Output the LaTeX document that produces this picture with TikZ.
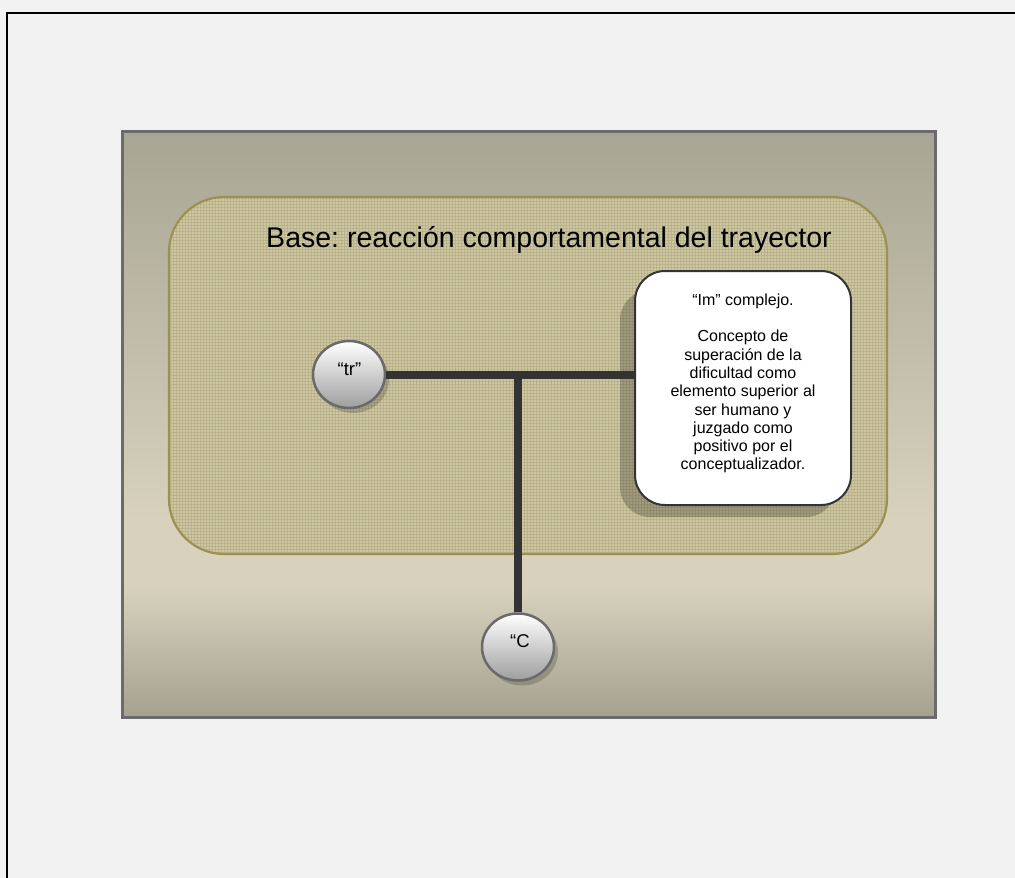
\documentclass[tikz,border=0pt]{standalone}
\usepackage{fontspec}
\setmainfont{Liberation Sans}
\frenchspacing
\usetikzlibrary{calc,shapes.geometric}

\definecolor{bgpage}{HTML}{F2F2F2}
\definecolor{ptop}{RGB}{167,165,147}
\definecolor{pmid}{RGB}{215,209,189}
\definecolor{pbot}{RGB}{165,161,143}
\definecolor{panelrule}{HTML}{6B6B6B}
\definecolor{basefill}{HTML}{CDC6A2}
\definecolor{basegrid}{HTML}{B2A97F}
\definecolor{baserule}{HTML}{9A9152}
\definecolor{linkc}{HTML}{333333}
\definecolor{bubblerule}{HTML}{6A6A6A}

% panel gradient: darker at top and bottom, light band low in the middle
\pgfdeclareverticalshading{panelshade}{100bp}{color(0bp)=(pbot); color(25bp)=(pbot); color(36bp)=(pmid); color(42bp)=(pmid); color(75bp)=(ptop); color(100bp)=(ptop)}

\tikzset{
  bubble/.style={ellipse, minimum width=72pt, minimum height=67pt, inner sep=0pt,
    draw=bubblerule, line width=2.5pt, top color=white, bottom color=black!38},
  bubbletext/.style={font=\fontsize{18.5}{20}\selectfont, inner sep=0pt, anchor=base},
  imbox/.style={rectangle, rounded corners=30pt, minimum width=216pt, minimum height=234pt,
    draw=linkc, line width=2pt, fill=white, inner sep=0pt},
  imtext/.style={font=\fontsize{16}{18.3}\selectfont, align=center, inner sep=0pt, anchor=north},
  titletext/.style={font=\fontsize{28.5}{32}\selectfont, inner sep=0pt, anchor=base},
  link/.style={draw=linkc, line width=8pt},
  shadowfill/.style={fill=black, opacity=.22}
}

\begin{document}
\begin{tikzpicture}[x=1pt,y=-1pt]
\useasboundingbox (0,0) rectangle (1015,878);
\clip (0,0) rectangle (1015,878);

% page background and frame
\fill[bgpage] (0,0) rectangle (1015,878);
\draw[black, line width=2pt] (7,900) -- (7,13) -- (1030,13);

% shaded panel
\shade[shading=panelshade] (122,131) rectangle (935,717);
\draw[panelrule, line width=3pt] (122,131) rectangle (935,717);

% base region with fine grid texture
\fill[basefill, rounded corners=55pt] (169,197) rectangle (887,554);
\begin{scope}
  \clip[rounded corners=55pt] (169,197) rectangle (887,554);
  \foreach \gx in {170,173,...,887} \draw[basegrid, line width=.6pt, opacity=.6] (\gx,197) -- (\gx,554);
  \foreach \gy in {198,201,...,554} \draw[basegrid, line width=.6pt, opacity=.6] (169,\gy) -- (887,\gy);
\end{scope}
\draw[baserule, line width=2.2pt, rounded corners=55pt] (169,197) rectangle (887,554);

\node[titletext] (title) at (549,247.5) {Base: reacción comportamental del trayector};

% shadows
\fill[shadowfill, rounded corners=30pt] (620,290) rectangle (836,517);
\fill[black, opacity=.18] (353,379.5) ellipse (36 and 33.5);
\fill[black, opacity=.18] (522,652) ellipse (36 and 33.5);

% nodes
\node[imbox] (im) at (743,388) {};
\node[imtext] (imlabel) at (743,293.5) {“Im” complejo.\\[18.3pt]
  Concepto de\\ superación de la\\ dificultad como\\ elemento superior al\\
  ser humano y\\ juzgado como\\ positivo por el\\ conceptualizador.};

\node[bubble] (tr) at (349,374.5) {};
\node[bubble] (C) at (518,647) {};
\coordinate (j) at (tr.east -| C.north);

% connectors
\draw[link] (tr.east) -- (tr.east -| im.west);
\draw[link] (j) -- (C.north);

\node[bubbletext] (trlabel) at (349.5,375) {“tr”};
\node[bubbletext] (Clabel) at (520,647) {“C};
\end{tikzpicture}
\end{document}
